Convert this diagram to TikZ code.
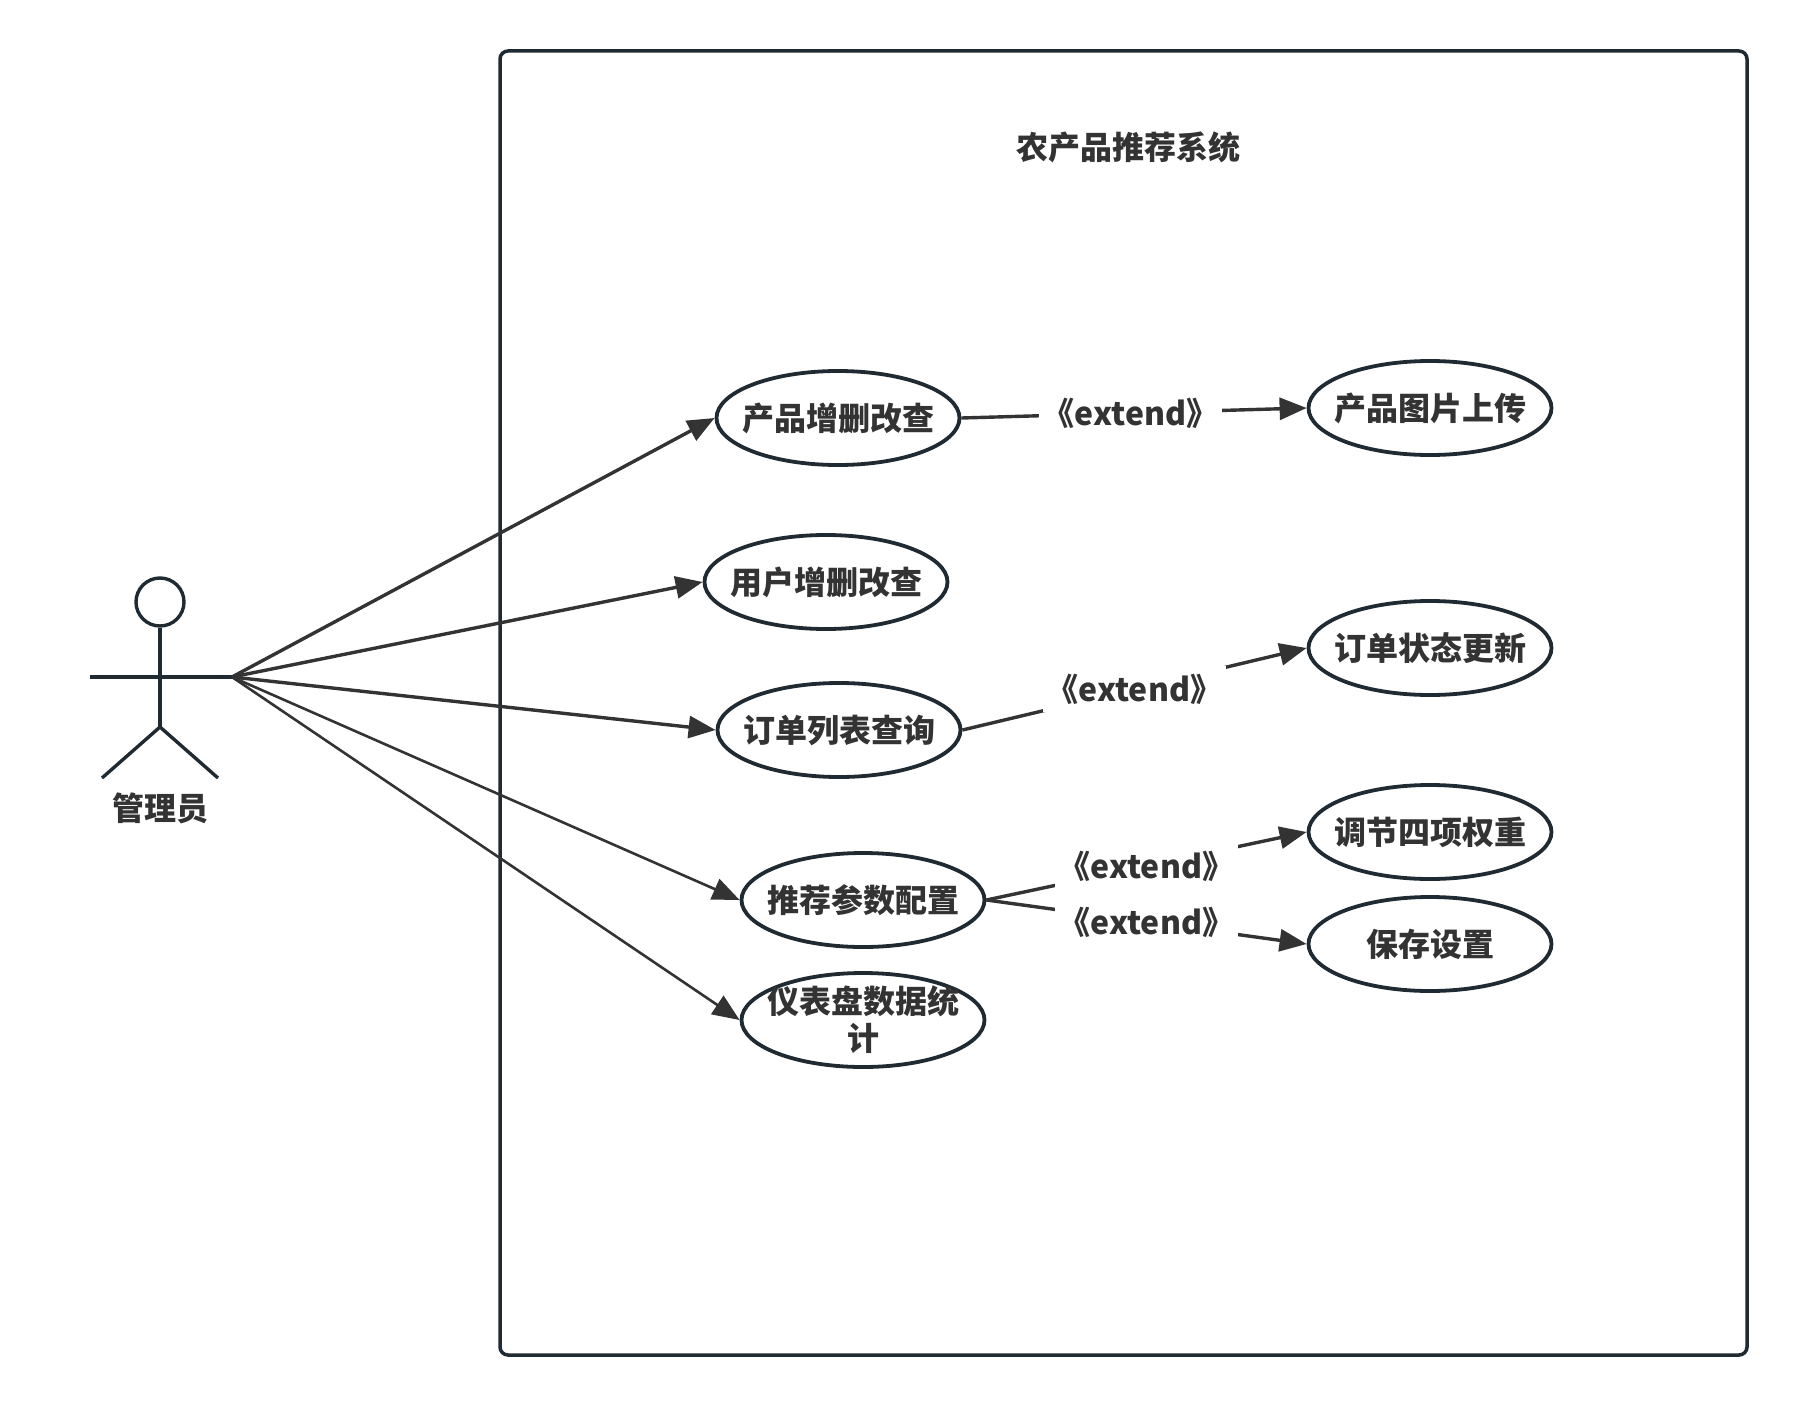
\documentclass[tikz,border=0pt]{standalone}
\usepackage{fontspec}
\setmainfont{Noto Sans CJK SC}
\usetikzlibrary{arrows.meta,shapes.geometric}
\definecolor{strokec}{HTML}{1F2A33}
\definecolor{linec}{HTML}{333333}
\definecolor{textc}{HTML}{333333}
\begin{document}
\begin{tikzpicture}[x=1pt,y=-1pt,
  every node/.style={font=\fontsize{32}{37}\selectfont\bfseries, text=textc},
  usecase/.style={ellipse, draw=strokec, line width=3.8pt, minimum width=243pt, minimum height=94pt, inner sep=-12pt, align=center, fill=white},
  actorline/.style={draw=strokec, line width=3.4pt},
  assoc/.style={draw=linec, line width=3.4pt, -{Triangle[length=27pt,width=22pt]}},
  assocthin/.style={draw=linec, line width=2.6pt, -{Triangle[length=27pt,width=22pt]}},
  ext/.style={draw=linec, line width=3.4pt, -{Triangle[length=27pt,width=22pt]}},
  extlabel/.style={fill=white, inner xsep=4pt, inner ysep=8pt}
]
\useasboundingbox (0,0) rectangle (1796,1405);
% system boundary
\draw[draw=strokec, line width=3.5pt, rounded corners=8pt] (500,51) rectangle (1747,1355);
\node (title) at (1128,147) {农产品推荐系统};

% actor
\node[circle, draw=strokec, line width=3.4pt, minimum size=48pt, inner sep=0pt] (head) at (160,602) {};
\coordinate (hip) at (160,727);
\coordinate (armL) at (90,677);
\coordinate (actorpt) at (232,677);
\coordinate (legL) at (102,778);
\coordinate (legR) at (218,778);
\draw[actorline] (head.south) -- (hip);
\draw[actorline] (armL) -- (actorpt);
\draw[actorline] (legL) -- (hip) -- (legR);
\node (actorlabel) at (160,808) {管理员};

% use cases
\node[usecase] (a1) at (838,418) {产品增删改查};
\node[usecase] (a2) at (826,582) {用户增删改查};
\node[usecase] (a3) at (839,730) {订单列表查询};
\node[usecase] (a4) at (863,900) {推荐参数配置};
\node[usecase] (a5) at (863,1020) {仪表盘数据统\\计};
\node[usecase] (b1) at (1430,408) {产品图片上传};
\node[usecase] (b2) at (1430,648) {订单状态更新};
\node[usecase] (b3) at (1430,832) {调节四项权重};
\node[usecase] (b4) at (1430,944) {保存设置};

% associations
\draw[assoc] (actorpt) -- (a1.west);
\draw[assoc] (actorpt) -- (a2.west);
\draw[assoc] (actorpt) -- (a3.west);
\draw[assocthin] (actorpt) -- (a4.west);
\draw[assocthin] (actorpt) -- (a5.west);

% extends
\draw[ext] (a1.east) -- node[extlabel, pos=0.49] (e1) {《extend》} (b1.west);
\draw[ext] (a3.east) -- node[extlabel, pos=0.5] (e2) {《extend》} (b2.west);
\draw[ext] (a4.east) -- node[extlabel, pos=0.5] (e3) {《extend》} (b3.west);
\draw[ext] (a4.east) -- node[extlabel, pos=0.5] (e4) {《extend》} (b4.west);
\end{tikzpicture}
\end{document}
